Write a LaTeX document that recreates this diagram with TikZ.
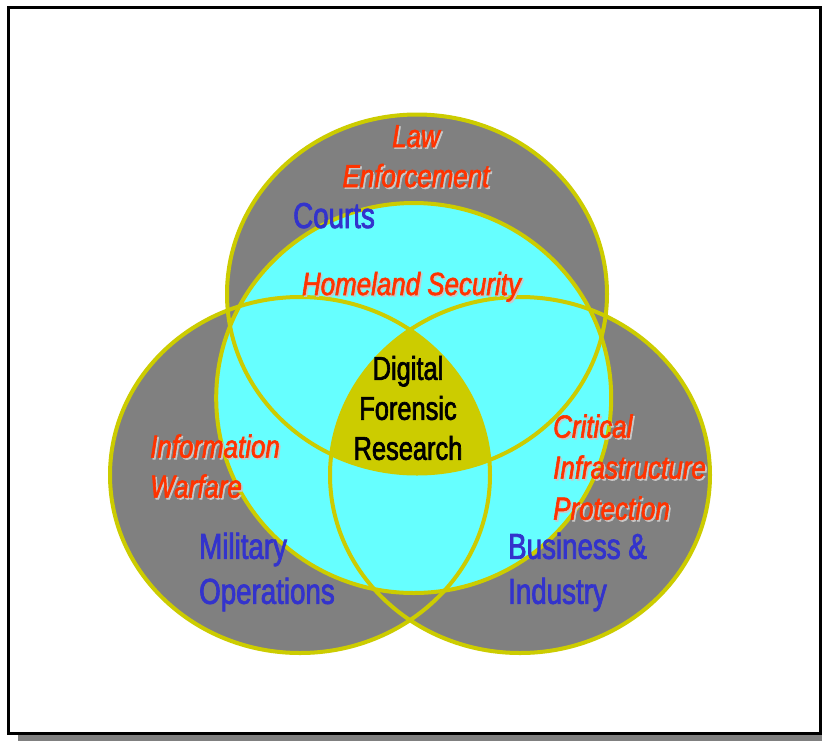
\documentclass[tikz,border=0pt]{standalone}
\usepackage{fontspec}
\setmainfont{Liberation Sans}[FakeStretch=0.77, FakeBold=2]
\newfontfamily\slantfont{Liberation Sans}[FakeStretch=0.81, FakeBold=1.8]
\definecolor{ringfill}{HTML}{808080}
\definecolor{coreblue}{HTML}{66FFFF}
\definecolor{ringline}{HTML}{CCCC00}
\definecolor{areared}{HTML}{FF3300}
\definecolor{areablue}{HTML}{3333CC}
\definecolor{shadowgray}{HTML}{C8C8C8}
\newcommand{\shd}[1]{\makebox[0pt][l]{\hspace{1.6pt}\raisebox{-1.6pt}{\color{shadowgray}#1}}#1}

\begin{document}
\begin{tikzpicture}[x=1pt, y=-1pt,
			ring/.style={draw=ringline, line width=4pt},
			redlabel/.style={text=areared, font=\slantfont\itshape\fontsize{32}{40}\selectfont, inner sep=0pt},
			bluelabel/.style={text=areablue, font=\fontsize{36}{45}\selectfont, inner sep=0pt, align=left},
			corelabel/.style={text=black, font=\fontsize{33}{40}\selectfont, inner sep=0pt, align=center}]
	\useasboundingbox (0,0) rectangle (822,740);
	% frame and its shadow
	\fill[ringfill] (18,15) rectangle (830,742);
	\draw[black, line width=3pt, fill=white] (8.5,7) rectangle (820,733);
	% the three areas and the core
	\fill[ringfill] (417,294) ellipse [x radius=190pt, y radius=179.5pt];
	\fill[ringfill] (300,475) ellipse [x radius=190pt, y radius=178pt];
	\fill[ringfill] (520,475) ellipse [x radius=190pt, y radius=178pt];
	\fill[coreblue] (413.7,398) ellipse [x radius=197.5pt, y radius=195pt];
	\begin{scope}
		\clip (417,294) ellipse [x radius=190pt, y radius=179.5pt];
		\clip (300,475) ellipse [x radius=190pt, y radius=178pt];
		\fill[ringline] (520,475) ellipse [x radius=190pt, y radius=178pt];
	\end{scope}
	\draw[ring] (417,294) ellipse [x radius=190pt, y radius=179.5pt];
	\draw[ring] (300,475) ellipse [x radius=190pt, y radius=178pt];
	\draw[ring] (520,475) ellipse [x radius=190pt, y radius=178pt];
	\draw[ring] (413.7,398) ellipse [x radius=197.5pt, y radius=195pt];
	% labels
	\node (law) at (416,157) [redlabel, align=center] {\shd{Law}\\\shd{Enforcement}};
	\node (courts) at (293,228) [bluelabel, anchor=base west] {Courts};
	\node (homeland) at (411.5,295) [redlabel, anchor=base] {\shd{Homeland Security}};
	\node (dfr) at (408,408) [corelabel] {Digital\\Forensic\\Research};
	\node (infowar) at (150,467) [redlabel, align=left, anchor=west] {\shd{Information}\\\shd{Warfare}};
	\node (military) at (199,572) [bluelabel, anchor=west] {Military\\Operations};
	\node (cip) at (553,468) [redlabel, align=left, anchor=west, font=\slantfont\itshape\fontsize{32}{41}\selectfont] {\shd{Critical}\\\shd{Infrastructure}\\\shd{Protection}};
	\node (business) at (508,572) [bluelabel, anchor=west] {Business \&\\Industry};
\end{tikzpicture}
\end{document}
